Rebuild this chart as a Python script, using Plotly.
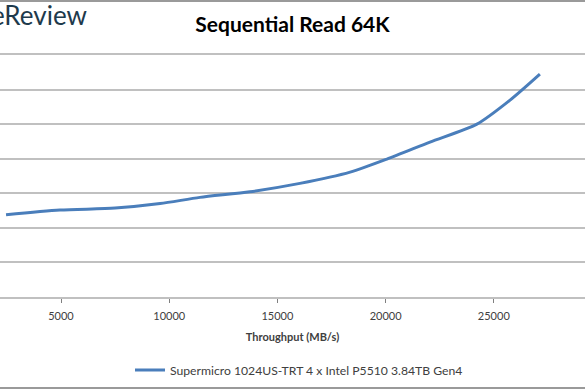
import plotly.graph_objects as go

# Data (throughput MB/s vs average latency ms)
throughput = [2460, 4950, 7500, 9580, 11420, 13730, 16040, 18360, 20060, 22050, 24220, 25750, 27130]
latency = [1.189, 1.257, 1.286, 1.351, 1.441, 1.522, 1.643, 1.806, 1.994, 2.240, 2.500, 2.847, 3.223]
series_name = "Supermicro 1024US-TRT 4 x Intel P5510 3.84TB Gen4"
x_ticks = [5000, 10000, 15000, 20000, 25000]
y_ticks = [0, 0.5, 1.0, 1.5, 2.0, 2.5, 3.0, 3.5]

W, H = 585, 390
L, R, T, B = 0, 0, 55, 93
ph = H - T - B

fig = go.Figure()
fig.add_trace(go.Scatter(
    x=throughput, y=latency, mode="lines", name=series_name,
    line=dict(color="#4a7ebb", width=3, shape="spline", smoothing=0.7),
))

grid = "#c0c0c0"
fig.update_layout(
    width=W, height=H,
    margin=dict(l=L, r=R, t=T, b=B, pad=0, autoexpand=False),
    paper_bgcolor="white", plot_bgcolor="white",
    font=dict(family="Lato, 'Open Sans', sans-serif", color="#404040", size=11),
    title=dict(text="<b>Sequential Read 64K</b>", x=0.5, xanchor="center",
               y=1 - 25 / H, yanchor="middle",
               font=dict(family="Lato, sans-serif", size=21, color="#000000")),
    xaxis=dict(range=[2181, 29214], tickvals=x_ticks, ticktext=[str(v) for v in x_ticks],
               showgrid=False, zeroline=False, showline=True, mirror=True, linecolor=grid, linewidth=2,
               ticks="outside", ticklen=4, tickcolor="#808080", tickwidth=1, automargin=False,
               ticklabelstandoff=4,
               tickfont=dict(size=11, color="#404040"),
               title=dict(text="<b>Throughput (MB/s)</b>", font=dict(size=11, color="#404040"), standoff=12)),
    yaxis=dict(range=[0, 3.5], tickvals=y_ticks, showticklabels=False, automargin=False,
               showgrid=True, gridcolor=grid, gridwidth=2, zeroline=False, showline=False),
    showlegend=True,
    legend=dict(orientation="h", x=(140 - 10) / W, xanchor="left", y=-(370 - 297) / ph, yanchor="middle",
                font=dict(size=12.2, color="#404040"), itemwidth=30, bgcolor="rgba(0,0,0,0)"),
)

# Cropped "StorageReview" logo text at top-left
fig.add_annotation(text="StorageReview", xref="paper", yref="paper",
                   x=89 / W, xanchor="right", y=1 + (T - 15) / ph, yanchor="middle",
                   showarrow=False, font=dict(family="Lato, sans-serif", size=26, color="#1e3a4c"))

# Chart area border lines (top & bottom)
fig.add_shape(type="line", xref="paper", yref="paper", x0=0, x1=1,
              y0=1 + (T - 1) / ph, y1=1 + (T - 1) / ph, line=dict(color="#9a9a9a", width=2))
fig.add_shape(type="line", xref="paper", yref="paper", x0=0, x1=1,
              y0=-(B - 2) / ph, y1=-(B - 2) / ph, line=dict(color="#9a9a9a", width=2))

fig.write_html("out.html", config={"displayModeBar": False},
               post_script="document.body.style.margin='0';document.body.style.overflow='hidden';")
